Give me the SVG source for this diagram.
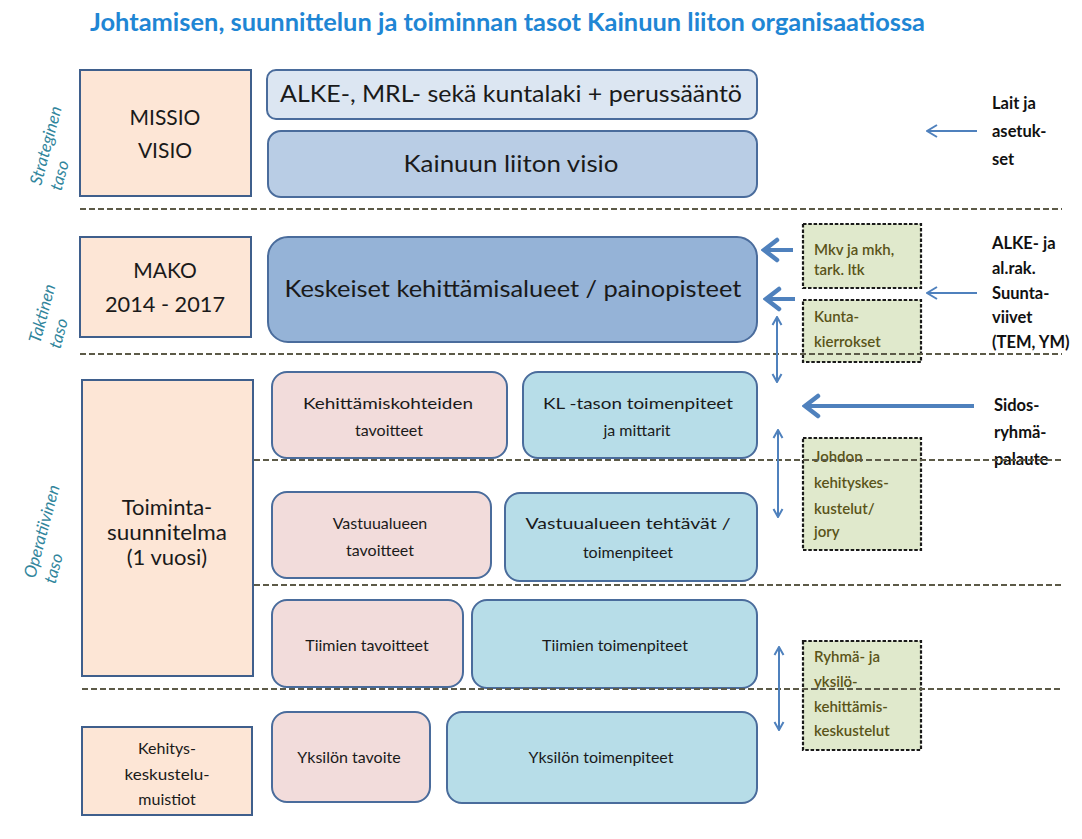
<svg xmlns="http://www.w3.org/2000/svg" width="1082" height="839" viewBox="0 0 1082 839">
<style>
  .bg{fill:#ffffff}
  .t{font-family:Lato,"Open Sans","Liberation Sans",sans-serif;fill:#1a1a1a;text-anchor:middle}
  .title{font-family:Lato,"Open Sans","Liberation Sans",sans-serif;font-weight:bold;fill:#1f86d4;font-size:25px}
  .lvl{font-family:Lato,"Open Sans","Liberation Sans",sans-serif;font-style:italic;fill:#31859c;font-size:17px}
  .side{font-family:Lato,"Open Sans","Liberation Sans",sans-serif;font-weight:bold;fill:#111111;font-size:16.5px}
  .gt{font-family:Lato,"Open Sans","Liberation Sans",sans-serif;fill:#5a5418;font-size:15px;font-weight:600}
  .peach{fill:#fde6d6;stroke:#3f5f8c;stroke-width:2}
  .pink{fill:#f2dcdb;stroke:#4a6c9c;stroke-width:2}
  .cyan{fill:#b7dde8;stroke:#4a6c9c;stroke-width:2}
  .green{fill:#e0e9cc;stroke:#1a1a1a;stroke-width:2.2;stroke-dasharray:3.5,1.8}
  .sep{stroke:#5c5a48;stroke-width:2;stroke-dasharray:6,3;fill:none}
  .thin{stroke:#4f81bd;stroke-width:2;fill:none}
  .thick{stroke:#4f81bd;stroke-width:4;fill:none}
</style>
<defs>
  <marker id="mThin" markerUnits="userSpaceOnUse" markerWidth="14" markerHeight="14" viewBox="0 0 14 14" refX="13" refY="7" orient="auto-start-reverse">
    <path d="M3,1 L13,7 L3,13" fill="none" stroke="#4f81bd" stroke-width="2"/>
  </marker>
  <marker id="mSmall" markerUnits="userSpaceOnUse" markerWidth="12" markerHeight="12" viewBox="0 0 12 12" refX="11" refY="6" orient="auto-start-reverse">
    <path d="M3,1.5 L11,6 L3,10.5" fill="none" stroke="#4f81bd" stroke-width="2"/>
  </marker>
  <marker id="mThick" markerUnits="userSpaceOnUse" markerWidth="22" markerHeight="26" viewBox="0 0 22 26" refX="20" refY="13" orient="auto-start-reverse">
    <path d="M6,3 L19,13 L6,23" fill="none" stroke="#4f81bd" stroke-width="4.5" stroke-linecap="round"/>
  </marker>
</defs>
<rect class="bg" x="0" y="0" width="1082" height="839"/>

<text class="title" x="90" y="31" textLength="835" lengthAdjust="spacingAndGlyphs">Johtamisen, suunnittelun  ja toiminnan tasot Kainuun liiton organisaatiossa</text>

<g id="levels">
  <g transform="translate(41,186) rotate(-75)"><text class="lvl" x="0" y="0">Strateginen</text><text class="lvl" x="0" y="21">taso</text></g>
  <g transform="translate(40,344) rotate(-75)"><text class="lvl" x="0" y="0">Taktinen</text><text class="lvl" x="0" y="21">taso</text></g>
  <g transform="translate(35,579) rotate(-75)"><text class="lvl" x="0" y="0">Operatiivinen</text><text class="lvl" x="0" y="21">taso</text></g>
</g>

<g id="missio">
  <rect class="peach" x="80" y="70" width="171" height="126"/>
  <text class="t" x="165" y="125" font-size="21">MISSIO</text>
  <text class="t" x="165" y="158" font-size="21">VISIO</text>
</g>
<g id="mako">
  <rect class="peach" x="80" y="237" width="171" height="100"/>
  <text class="t" x="165" y="278" font-size="21">MAKO</text>
  <text class="t" x="165" y="312" font-size="21" textLength="120" lengthAdjust="spacingAndGlyphs">2014 - 2017</text>
</g>
<g id="toimintasuunnitelma">
  <rect class="peach" x="82" y="380" width="171" height="296"/>
  <text class="t" x="167" y="515" font-size="22">Toiminta-</text>
  <text class="t" x="167" y="540" font-size="22" textLength="120" lengthAdjust="spacingAndGlyphs">suunnitelma</text>
  <text class="t" x="167" y="565" font-size="22">(1 vuosi)</text>
</g>
<g id="kehityskeskustelumuistiot">
  <rect class="peach" x="82" y="727" width="170" height="88"/>
  <text class="t" x="167" y="754" font-size="16">Kehitys-</text>
  <text class="t" x="167" y="780" font-size="16" textLength="85" lengthAdjust="spacingAndGlyphs">keskustelu-</text>
  <text class="t" x="167" y="805" font-size="16">muistiot</text>
</g>

<g id="alke">
  <rect x="267" y="70" width="490" height="49" rx="9" fill="#dce6f2" stroke="#4a6c9c" stroke-width="2"/>
  <text class="t" x="511" y="102" font-size="23" textLength="462" lengthAdjust="spacingAndGlyphs">ALKE-, MRL- sekä kuntalaki + perussääntö</text>
</g>
<g id="visio">
  <rect x="268" y="131" width="489" height="66" rx="13" fill="#b9cde5" stroke="#4a6c9c" stroke-width="2"/>
  <text class="t" x="511" y="172" font-size="23" textLength="215" lengthAdjust="spacingAndGlyphs">Kainuun liiton visio</text>
</g>
<g id="keskeiset">
  <rect x="268" y="237" width="489" height="105" rx="20" fill="#95b3d7" stroke="#4a6c9c" stroke-width="2"/>
  <text class="t" x="513" y="297" font-size="24" textLength="457" lengthAdjust="spacingAndGlyphs">Keskeiset kehittämisalueet / painopisteet</text>
</g>

<g id="kehittamiskohteiden">
  <rect class="pink" x="272" y="372" width="235" height="86" rx="15"/>
  <text class="t" x="388" y="409" font-size="16" textLength="170" lengthAdjust="spacingAndGlyphs">Kehittämiskohteiden</text>
  <text class="t" x="389" y="436" font-size="16">tavoitteet</text>
</g>
<g id="kltaso">
  <rect class="cyan" x="523" y="372" width="234" height="86" rx="15"/>
  <text class="t" x="638" y="409" font-size="16" textLength="190" lengthAdjust="spacingAndGlyphs">KL -tason toimenpiteet</text>
  <text class="t" x="637" y="436" font-size="16">ja mittarit</text>
</g>
<g id="vastuualueentavoitteet">
  <rect class="pink" x="272" y="492" width="219" height="86" rx="15"/>
  <text class="t" x="380" y="529" font-size="16">Vastuualueen</text>
  <text class="t" x="380" y="556" font-size="16">tavoitteet</text>
</g>
<g id="vastuualueentehtavat">
  <rect class="cyan" x="505" y="493" width="252" height="88" rx="15"/>
  <text class="t" x="628" y="529" font-size="16" textLength="205" lengthAdjust="spacingAndGlyphs">Vastuualueen  tehtävät  /</text>
  <text class="t" x="628" y="558" font-size="16">toimenpiteet</text>
</g>
<g id="tiimientavoitteet">
  <rect class="pink" x="272" y="600" width="191" height="87" rx="15"/>
  <text class="t" x="367" y="651" font-size="16">Tiimien  tavoitteet</text>
</g>
<g id="tiimientoimenpiteet">
  <rect class="cyan" x="472" y="600" width="285" height="88" rx="15"/>
  <text class="t" x="615" y="651" font-size="16">Tiimien  toimenpiteet</text>
</g>
<g id="yksilontavoite">
  <rect class="pink" x="272" y="712" width="158" height="90" rx="15"/>
  <text class="t" x="349" y="763" font-size="16">Yksilön tavoite</text>
</g>
<g id="yksilontoimenpiteet">
  <rect class="cyan" x="447" y="712" width="310" height="91" rx="15"/>
  <text class="t" x="601" y="763" font-size="16">Yksilön toimenpiteet</text>
</g>

<g id="mkv">
  <rect class="green" x="803" y="224" width="118" height="64"/>
  <text class="gt" x="814" y="255">Mkv ja mkh,</text>
  <text class="gt" x="814" y="275">tark. ltk</text>
</g>
<g id="kunta">
  <rect class="green" x="803" y="300" width="118" height="62"/>
  <text class="gt" x="814" y="322">Kunta-</text>
  <text class="gt" x="814" y="347">kierrokset</text>
</g>
<g id="johdon">
  <rect class="green" x="803" y="438" width="118" height="112"/>
  <text class="gt" x="814" y="462">Johdon</text>
  <text class="gt" x="814" y="488">kehityskes-</text>
  <text class="gt" x="814" y="514">kustelut/</text>
  <text class="gt" x="814" y="537">jory</text>
</g>
<g id="ryhma">
  <rect class="green" x="803" y="641" width="118" height="109"/>
  <text class="gt" x="814" y="662">Ryhmä- ja</text>
  <text class="gt" x="814" y="687">yksilö-</text>
  <text class="gt" x="814" y="712">kehittämis-</text>
  <text class="gt" x="814" y="736">keskustelut</text>
</g>

<g id="lait">
  <text class="side" x="992" y="109">Lait ja</text>
  <text class="side" x="992" y="137">asetuk-</text>
  <text class="side" x="992" y="165">set</text>
</g>
<g id="alkeohjeet">
  <text class="side" x="992" y="249">ALKE- ja</text>
  <text class="side" x="992" y="274">al.rak.</text>
  <text class="side" x="992" y="299">Suunta-</text>
  <text class="side" x="992" y="323">viivet</text>
  <text class="side" x="992" y="348">(TEM, YM)</text>
</g>
<g id="sidosryhma">
  <text class="side" x="994" y="411">Sidos-</text>
  <text class="side" x="994" y="438">ryhmä-</text>
  <text class="side" x="994" y="465">palaute</text>
</g>

<g id="separators">
  <line class="sep" x1="80" y1="209" x2="1062" y2="209"/>
  <line class="sep" x1="80" y1="354" x2="1062" y2="354"/>
  <line class="sep" x1="254" y1="460" x2="1062" y2="460"/>
  <line class="sep" x1="254" y1="585" x2="1062" y2="585"/>
  <line class="sep" x1="82" y1="689" x2="1062" y2="689"/>
</g>

<g id="connectors">
  <line class="thin" x1="977" y1="131" x2="927" y2="131" marker-end="url(#mThin)"/>
  <line class="thin" x1="977" y1="293" x2="927" y2="293" marker-end="url(#mThin)"/>
  <line class="thick" x1="793" y1="250" x2="763" y2="250" marker-end="url(#mThick)"/>
  <line class="thick" x1="795" y1="299" x2="765" y2="299" marker-end="url(#mThick)"/>
  <line class="thick" x1="974" y1="406" x2="804" y2="406" marker-end="url(#mThick)"/>
  <line class="thin" x1="777" y1="317" x2="777" y2="382" marker-start="url(#mSmall)" marker-end="url(#mSmall)"/>
  <line class="thin" x1="778" y1="430" x2="778" y2="517" marker-start="url(#mSmall)" marker-end="url(#mSmall)"/>
  <line class="thin" x1="779" y1="647" x2="779" y2="730" marker-start="url(#mSmall)" marker-end="url(#mSmall)"/>
</g>
</svg>
